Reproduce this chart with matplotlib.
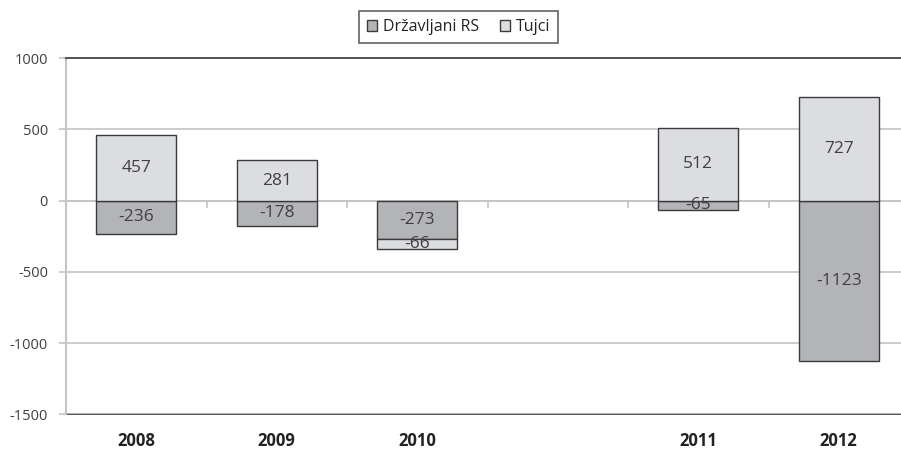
import matplotlib.pyplot as plt
import numpy as np

plt.rcParams['font.family'] = ['Open Sans', 'DejaVu Sans']
plt.rcParams['axes.unicode_minus'] = False

# categories (one empty slot between 2010 and 2011)
years = ['2008', '2009', '2010', '', '2011', '2012']
drzavljani = [-236, -178, -273, np.nan, -65, -1123]
tujci = [457, 281, -66, np.nan, 512, 727]

c_drz = '#b3b4b7'
c_tuj = '#dcdde0'
edge = '#3a3a3a'
txt = '#404040'
grid = '#c4c4c4'

fig = plt.figure(figsize=(9.01, 4.49), dpi=100)
ax = fig.add_axes([0.0733, 0.0773, 0.9267, 0.7935])

x = np.arange(len(years))
drz = np.array(drzavljani, dtype=float)
tuj = np.array(tujci, dtype=float)
# Tujci stack below Drzavljani when both negative, else start from 0
tuj_bottom = np.where((tuj < 0) & (drz < 0), drz, 0)

w = 0.57
ax.bar(x, drz, w, color=c_drz, edgecolor=edge, linewidth=1, label='Državljani RS', zorder=3)
ax.bar(x, tuj, w, bottom=tuj_bottom, color=c_tuj, edgecolor=edge, linewidth=1,
       label='Tujci', zorder=3)

# data labels in the middle of each segment
for i in range(len(years)):
    if np.isnan(drz[i]):
        continue
    ax.text(x[i], drz[i] / 2, '%d' % drz[i], ha='center', va='center',
            fontsize=12.5, color=txt, zorder=4)
    ax.text(x[i], tuj_bottom[i] + tuj[i] / 2, '%d' % tuj[i], ha='center', va='center',
            fontsize=12.5, color=txt, zorder=4)

ax.set_ylim(-1500, 1000)
ax.set_yticks(np.arange(-1500, 1001, 500))
ax.yaxis.grid(True, color=grid, linewidth=1.2, zorder=0)
ax.tick_params(axis='y', direction='out', length=5, width=1.2, color=grid,
               labelsize=10.5, labelcolor=txt, pad=8)

# x axis line sits on zero, with ticks between categories
ax.spines['bottom'].set_position(('data', 0))
ax.spines['bottom'].set_color(grid)
ax.spines['bottom'].set_linewidth(1.2)
ax.set_xticks(np.arange(0.5, len(years) - 1, 1))
ax.tick_params(axis='x', direction='out', length=5, width=1.2, color=grid,
               labelbottom=False)

ax.spines['left'].set_color(grid)
ax.spines['left'].set_linewidth(1.5)
ax.spines['right'].set_visible(False)
ax.spines['top'].set_color(edge)
ax.spines['top'].set_linewidth(1.2)

# bottom frame line with the year labels
sec = ax.secondary_xaxis(0)
sec.set_xticks(x[[0, 1, 2, 4, 5]])
sec.set_xticklabels([years[i] for i in [0, 1, 2, 4, 5]], fontsize=12,
                    fontweight='bold', color='#222222')
sec.tick_params(length=0, pad=13)
sec.spines['bottom'].set_color(edge)
sec.spines['bottom'].set_linewidth(1.2)
ax.set_xlim(-0.5, -0.5 + (901 - 66) / 140.5)

leg = fig.legend(loc='center', bbox_to_anchor=(0.509, 0.939), ncol=2, fontsize=11.5,
                 frameon=True, fancybox=False, edgecolor=edge, handlelength=0.65,
                 handleheight=0.65, handletextpad=0.35, columnspacing=1.3,
                 borderpad=0.5, borderaxespad=0)
leg.get_frame().set_linewidth(1.2)
for t in leg.get_texts():
    t.set_color('#222222')

fig.savefig('out.png', dpi=100)
